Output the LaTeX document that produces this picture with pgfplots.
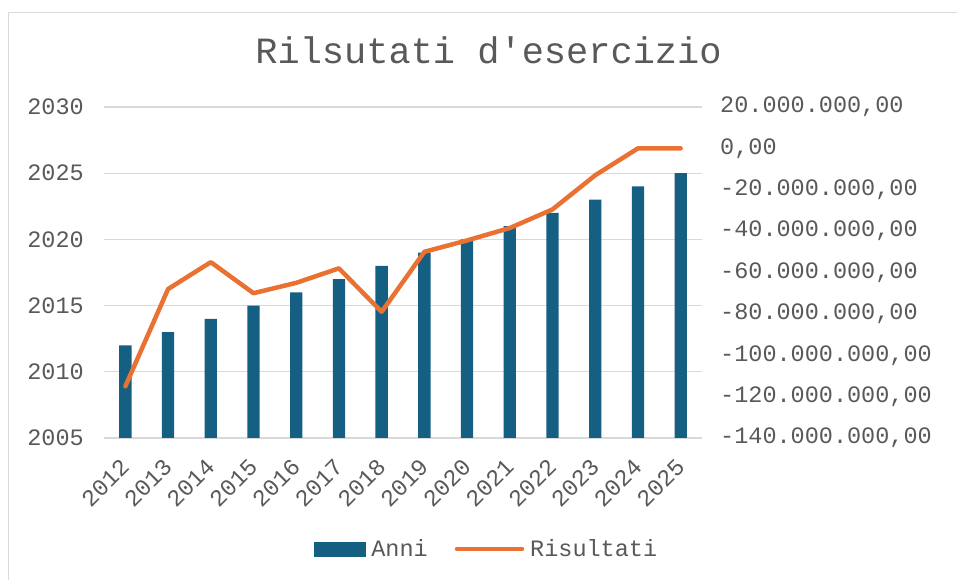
\documentclass[border=0pt]{standalone}
\usepackage{fontspec}
\setmainfont{Liberation Mono}
\usepackage{pgfplots}
\pgfplotsset{compat=1.18}
\definecolor{barc}{HTML}{156082}
\definecolor{linec}{HTML}{E97132}
\definecolor{gridc}{HTML}{D9D9D9}
\definecolor{txtc}{HTML}{595959}
\newcommand{\tickfont}{\fontsize{23.5}{28}\selectfont}
\begin{document}
\begin{tikzpicture}
\path[use as bounding box] (0,0) rectangle (957pt,580pt);
\draw[gridc, line width=1.5pt] (8.5pt,0) -- (8.5pt,567.5pt) -- (957pt,567.5pt);
\node[anchor=base, text=txtc, font=\fontsize{37}{44}\selectfont, inner sep=0pt] at (488.5pt,516.7pt) {Rilsutati d\textquotesingle esercizio};

\begin{axis}[
  at={(104pt,142pt)}, anchor=south west, scale only axis,
  width=598pt, height=331pt,
  xmin=-0.5, xmax=13.5, ymin=2005, ymax=2030,
  xtick={0,1,2,3,4,5,6,7,8,9,10,11,12,13},
  xticklabels={2012,2013,2014,2015,2016,2017,2018,2019,2020,2021,2022,2023,2024,2025},
  ytick={2005,2010,2015,2020,2025,2030},
  yticklabels={2005,2010,2015,2020,2025,2030},
  ymajorgrids, grid style={gridc, line width=1.3pt},
  axis line style={draw=none}, major tick style={draw=none},
  tick label style={font=\tickfont, text=txtc},
  xticklabel style={rotate=45, anchor=east, inner sep=0pt},
  xticklabel shift=21pt,
  yticklabel style={anchor=east, inner sep=0pt, xshift=-20pt},
  ybar, bar width=12.3pt,
]
\addplot[fill=barc, draw=none] coordinates {
  (0,2012) (1,2013) (2,2014) (3,2015) (4,2016) (5,2017) (6,2018)
  (7,2019) (8,2020) (9,2021) (10,2022) (11,2023) (12,2024) (13,2025)
};
\end{axis}

\begin{axis}[
  at={(104pt,142pt)}, anchor=south west, scale only axis,
  width=598pt, height=331pt,
  xmin=-0.5, xmax=13.5, ymin=-140000000, ymax=20000000,
  axis x line=none, axis y line*=right,
  axis line style={draw=none}, major tick style={draw=none},
  scaled y ticks=false,
  ytick={-140000000,-120000000,-100000000,-80000000,-60000000,-40000000,-20000000,0,20000000},
  yticklabels={{-140.000.000,00},{-120.000.000,00},{-100.000.000,00},{-80.000.000,00},{-60.000.000,00},{-40.000.000,00},{-20.000.000,00},{0,00},{20.000.000,00}},
  tick label style={font=\tickfont, text=txtc},
  yticklabel style={anchor=west, inner sep=0pt, xshift=18pt},
  legend style={at={(0.638,-0.335)}, anchor=center, draw=none, fill=none,
    legend columns=2, font=\tickfont, text=txtc, inner sep=0pt,
    nodes={inner sep=0pt},
    /tikz/every odd column/.append style={column sep=6pt},
    /tikz/every even column/.append style={column sep=27pt}},
]
\addlegendimage{legend image code/.code={\fill[barc] (0pt,-7pt) rectangle (51pt,7pt);}}
\addlegendentry{Anni}
\addplot[linec, line width=4.5pt, line cap=round, line join=round, mark=none,
  legend image code/.code={\draw[linec,line width=4.5pt,line cap=round] (2.25pt,0pt) -- (53.75pt,0pt); \path (0pt,0pt) -- (65pt,0pt);}]
coordinates {
  (0,-115000000) (1,-68000000) (2,-55000000) (3,-70000000) (4,-65000000)
  (5,-58000000) (6,-79000000) (7,-50000000) (8,-44500000) (9,-38500000)
  (10,-29500000) (11,-13000000) (12,0) (13,0)
};
\addlegendentry{Risultati}
\end{axis}
\end{tikzpicture}
\end{document}
